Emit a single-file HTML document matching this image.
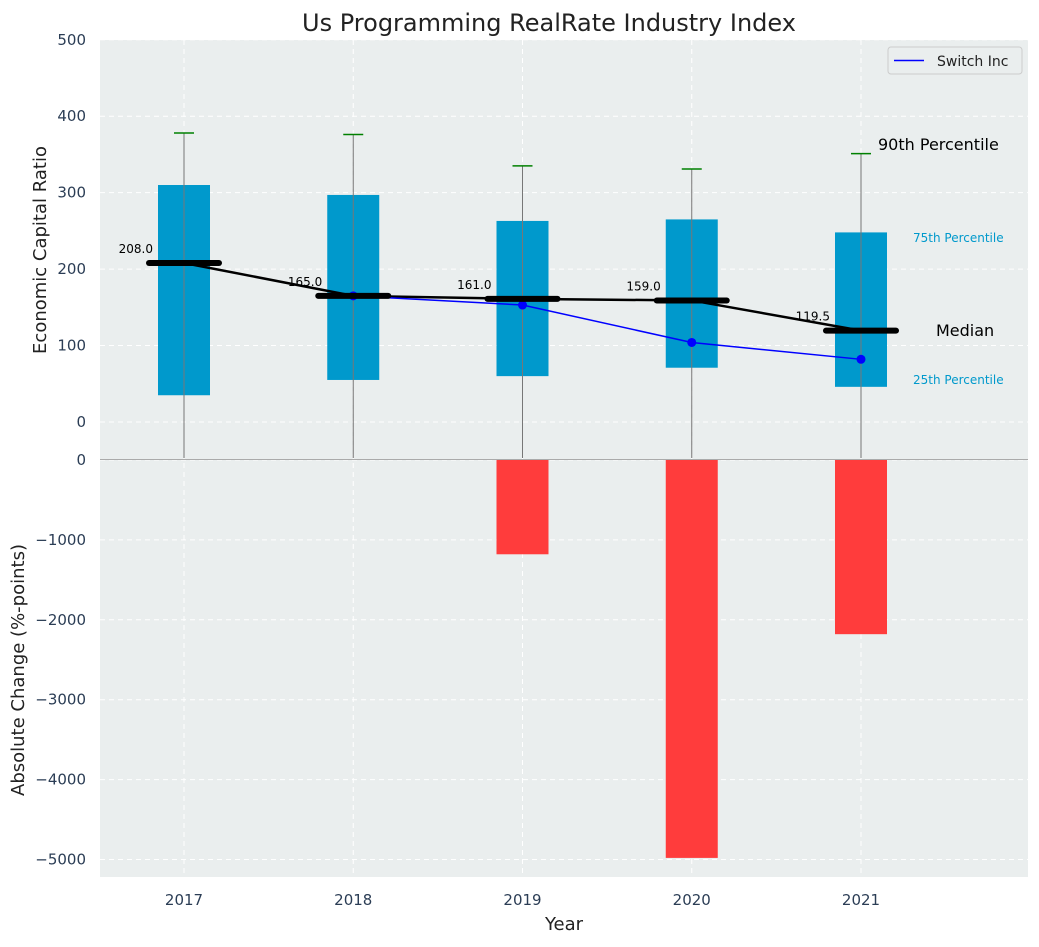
<!DOCTYPE html>
<html><head><meta charset="utf-8"><style>
body{margin:0;background:#fff;font-family:"Liberation Sans","DejaVu Sans",sans-serif;}
</style></head><body>
<svg id="c" width="1039" height="942" xmlns="http://www.w3.org/2000/svg" font-family="DejaVu Sans, Liberation Sans, sans-serif"></svg>
<script>
const years=[2017,2018,2019,2020,2021];
const p25=[35,55,60,71,46];
const p75=[310,297,263,265,248];
const p90=[378,376,335,331,351];
const medians=[208,165,161,159,119.5];
const switchYears=[2018,2019,2020,2021];
const switchVals=[165,153,104,82];
const changes=[0,0,-1180,-4980,-2180];
const topTicks=[0,100,200,300,400,500];
const botTicks=[0,-1000,-2000,-3000,-4000,-5000];
const botTickLabels=["0","\u22121000","\u22122000","\u22123000","\u22124000","\u22125000"];

const svg=document.getElementById('c');
const NS='http://www.w3.org/2000/svg';
function el(t,a,txt){const e=document.createElementNS(NS,t);for(const k in a)e.setAttribute(k,a[k]);if(txt!==undefined)e.textContent=txt;svg.appendChild(e);return e;}
const L=100,R=1028;
const pxPerYr=169.25;
const x=v=>184+(v-2017)*pxPerYr;
const yT=v=>422-v*0.7645;
const yB=v=>460-v*0.0799;

let e;
e=el('rect',{x:L,y:40,width:R-L,height:419,fill:'#eaeeee'});

e=el('rect',{x:L,y:459,width:R-L,height:418,fill:'#eaeeee'});

topTicks.forEach(t=>{el('line',{x1:L,x2:R,y1:yT(t),y2:yT(t),stroke:'#fff','stroke-dasharray':'5,4','stroke-width':1});
 e=el('text',{x:86,y:yT(t)+5,'text-anchor':'end','font-size':15,fill:'#2b3d55'},String(t));
 });
botTicks.forEach((t,i)=>{el('line',{x1:L,x2:R,y1:yB(t),y2:yB(t),stroke:'#fff','stroke-dasharray':'5,4','stroke-width':1});
 e=el('text',{x:86,y:yB(t)+5,'text-anchor':'end','font-size':15,fill:'#2b3d55'},botTickLabels[i]);
 });
years.forEach(yr=>{
 el('line',{x1:x(yr),x2:x(yr),y1:40,y2:877,stroke:'#fff','stroke-dasharray':'5,4'});
 e=el('text',{x:x(yr),y:905,'text-anchor':'middle','font-size':15,fill:'#2b3d55'},String(yr));
 
});
el('line',{x1:L,x2:R,y1:459.5,y2:459.5,stroke:'#aaa','stroke-width':1});
years.forEach((yr,i)=>{
 const cx=x(yr),w=52;
 e=el('rect',{x:cx-w/2,y:yT(p75[i]),width:w,height:yT(p25[i])-yT(p75[i]),fill:'#0099cc'});
 
 e=el('line',{x1:cx,x2:cx,y1:yT(p90[i]),y2:458,stroke:'#777','stroke-width':1});
 
 e=el('line',{x1:cx-10,x2:cx+10,y1:yT(p90[i]),y2:yT(p90[i]),stroke:'green','stroke-width':1.5});
 
 if(changes[i]!==0){
  e=el('rect',{x:cx-w/2,y:yB(0),width:w,height:yB(changes[i])-yB(0),fill:'#ff3c3c'});
  
 }
});
e=el('polyline',{points:years.map((yr,i)=>x(yr)+','+yT(medians[i])).join(' '),fill:'none',stroke:'#000','stroke-width':2.5});

e=el('polyline',{points:switchYears.map((yr,i)=>x(yr)+','+yT(switchVals[i])).join(' '),fill:'none',stroke:'blue','stroke-width':1.5});

switchYears.forEach((yr,i)=>{e=el('circle',{cx:x(yr),cy:yT(switchVals[i]),r:4.5,fill:'blue'});
 });
years.forEach((yr,i)=>{
 const cx=x(yr);
 e=el('line',{x1:cx-35,x2:cx+35,y1:yT(medians[i]),y2:yT(medians[i]),stroke:'#000','stroke-width':6,'stroke-linecap':'round'});
 
 e=el('text',{x:cx-31,y:yT(medians[i])-10,'text-anchor':'end','font-size':12,fill:'#000'},medians[i].toFixed(1));
 
});
const ann=[[878,150,'90th Percentile',16,'#000'],[913,242,'75th Percentile',12,'#0099cc'],[936,336,'Median',16,'#000'],[913,384,'25th Percentile',12,'#0099cc']];
ann.forEach(a=>{e=el('text',{x:a[0],y:a[1],'font-size':a[3],fill:a[4]},a[2]);});
e=el('rect',{x:888,y:47,width:134,height:27,fill:'#eaeeee',stroke:'#ccc',rx:3});

el('line',{x1:894,x2:924,y1:60.5,y2:60.5,stroke:'blue','stroke-width':1.5});
e=el('text',{x:937,y:66,'font-size':14,fill:'#222'},'Switch Inc');
e=el('text',{x:549,y:31,'text-anchor':'middle','font-size':24,fill:'#222'},'Us Programming RealRate Industry Index');
e=el('text',{x:564,y:930,'text-anchor':'middle','font-size':18,fill:'#222'},'Year');
e=el('text',{x:0,y:0,'text-anchor':'middle','font-size':18,fill:'#222',transform:'translate(46,250) rotate(-90)'},'Economic Capital Ratio');
e=el('text',{x:0,y:0,'text-anchor':'middle','font-size':18,fill:'#222',transform:'translate(24,670) rotate(-90)'},'Absolute Change (%-points)');
</script>
</body></html>
